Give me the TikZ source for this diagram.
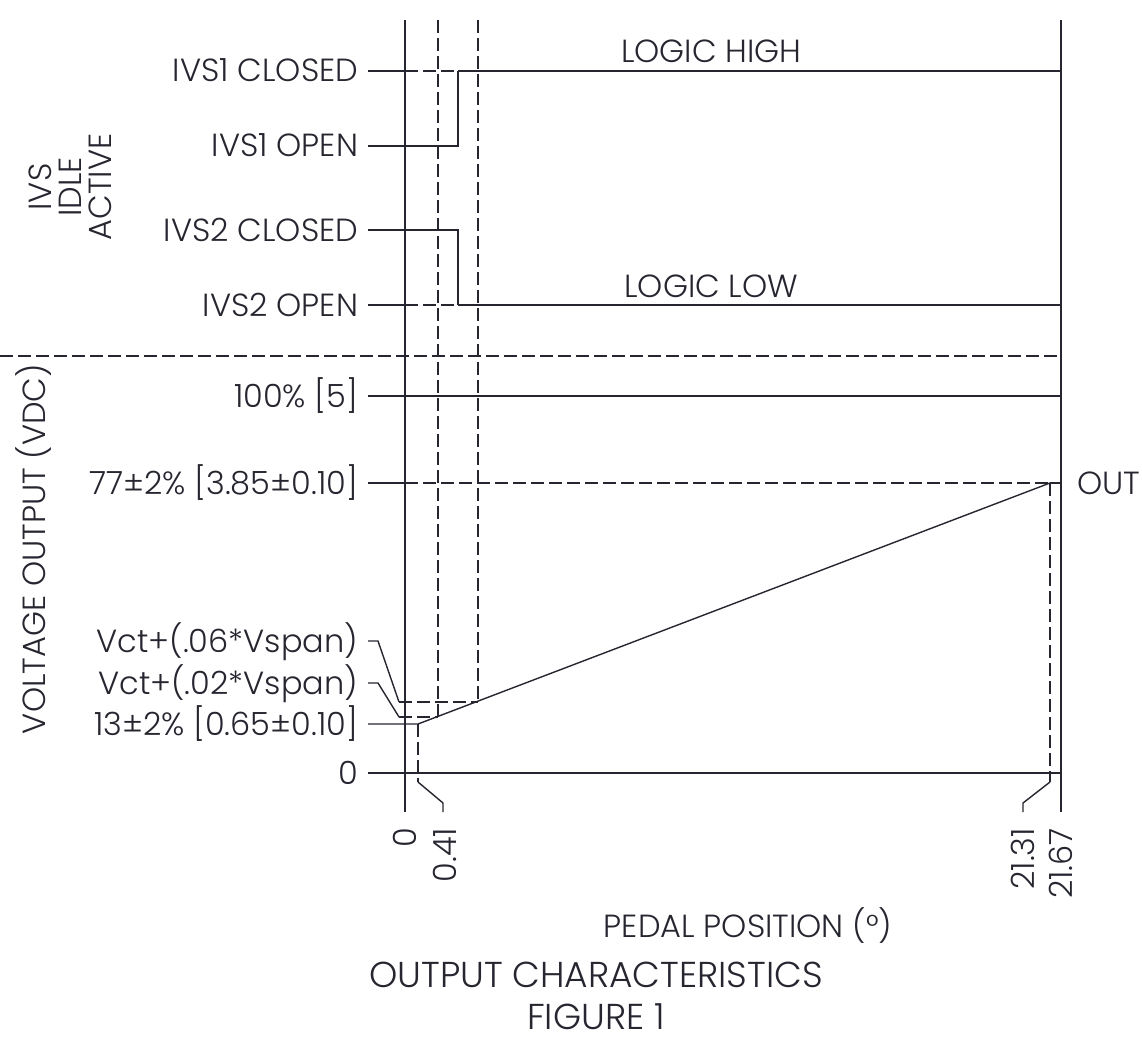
\documentclass[tikz,border=0pt]{standalone}
\usepackage{fontspec}
\setmainfont{Poppins}[UprightFont=* Light]
\definecolor{ink}{RGB}{38,38,48}
\tikzset{
  txt/.style={font=\fontsize{32}{30}\selectfont, inner sep=0pt, outer sep=0pt, text=ink},
  lbl/.style={txt, text height=22pt, text depth=0pt, anchor=east},
  vlbl/.style={lbl, rotate=90},
  dsh/.style={dash pattern=on 13pt off 5pt},
}

\begin{document}
\begin{tikzpicture}[x=1pt, y=-1pt, line width=1.4pt, color=ink]
\useasboundingbox (0,0) rectangle (1142,1043);

% grid points
\coordinate (axT) at (405,20);
\coordinate (axB) at (405,812);
\coordinate (rT) at (1061,20);
\coordinate (rB) at (1061,812);
\coordinate (d1T) at (438,20);
\coordinate (d1B) at (438,717);
\coordinate (d2T) at (478,20);
\coordinate (d2B) at (478,702);
\coordinate (ramp0) at (418,724);
\coordinate (ramp1) at (1050,483);

% left labels
\node [lbl] (c1) at (358,71) {IVS1 CLOSED};
\node [lbl] (o1) at (358,146) {IVS1 OPEN};
\node [lbl] (c2) at (358,230) {IVS2 CLOSED};
\node [lbl] (o2) at (358,305) {IVS2 OPEN};
\node [lbl] (full) at (358,396) {100\% [5]};
\node [lbl] (hi) at (358,483) {77±2\% [3.85±0.10]};
\node [lbl] (v06) at (358,641) {Vct+(.06*Vspan)};
\node [lbl] (v02) at (358,683) {Vct+(.02*Vspan)};
\node [lbl] (lo) at (358,724) {13±2\% [0.65±0.10]};
\node [lbl] (zero) at (358,773) {0};

% axes
\draw (axT) -- (axB);
\draw (rT) -- (rB);
\draw [dsh] (d1T) -- (d1B);
\draw [dsh] (d2T) -- (d2B);
\draw [dsh] (0,356) -- (1061,356);

% idle switches
\draw ([xshift=10pt]c1.east) -- (405,71);
\draw [dsh] (405,71) -- (458,71);
\draw (458,71) -- (1061,71) node [lbl, anchor=center, pos=0.42, yshift=19pt] (lh) {LOGIC HIGH};
\draw ([xshift=10pt]o1.east) -- (458,146) -- (458,71);
\draw ([xshift=10pt]c2.east) -- (458,230) -- (458,305);
\draw ([xshift=10pt]o2.east) -- (405,305);
\draw [dsh] (405,305) -- (458,305);
\draw (458,305) -- (1061,305) node [lbl, anchor=center, pos=0.42, yshift=19pt] (ll) {LOGIC LOW};

% output
\draw ([xshift=10pt]full.east) -- (1061,396);
\draw ([xshift=10pt]hi.east) -- (405,483);
\draw [dsh] (405,483) -- (ramp1);
\draw (ramp1) -- (1061,483);
\node [lbl, anchor=west] (out) at (1077,483) {OUT};
\draw ([xshift=10pt]lo.east) -- (ramp0) -- (ramp1);
\draw ([xshift=10pt]zero.east) -- (1061,773);
\draw ([xshift=10pt]v06.east) -- +(10,0) -- (399,702);
\draw [dsh] (399,702) -- (d2B);
\draw ([xshift=10pt]v02.east) -- +(10,0) -- (399,717);
\draw [dsh] (399,717) -- (d1B);

% pedal leaders
\draw [dsh] (ramp0) -- (418,782);
\draw (418,782) -- (443,803) -- (443,812);
\draw [dsh] (ramp1) -- (1050,782);
\draw (1050,782) -- (1023,803) -- (1023,812);

\node [vlbl] (t0) at (405,828) {0};
\node [vlbl] (t041) at (445,828) {0.41};
\node [vlbl] (t2131) at (1023,828) {21.31};
\node [vlbl] (t2167) at (1061,828) {21.67};

% titles
\node [lbl, anchor=center] (pedal) at (748,926) {PEDAL POSITION (°)};
\node [vlbl, anchor=center] (volt) at (34,549) {VOLTAGE OUTPUT (VDC)};
\node [txt, rotate=90, align=center] (ivs) at (70,187) {IVS\\IDLE\\ACTIVE};
\node [txt, font=\fontsize{36}{40}\selectfont] (title) at (596,975) {OUTPUT CHARACTERISTICS};
\node [txt, font=\fontsize{36}{40}\selectfont] (fig) at (596,1017) {FIGURE 1};
\end{tikzpicture}
\end{document}
